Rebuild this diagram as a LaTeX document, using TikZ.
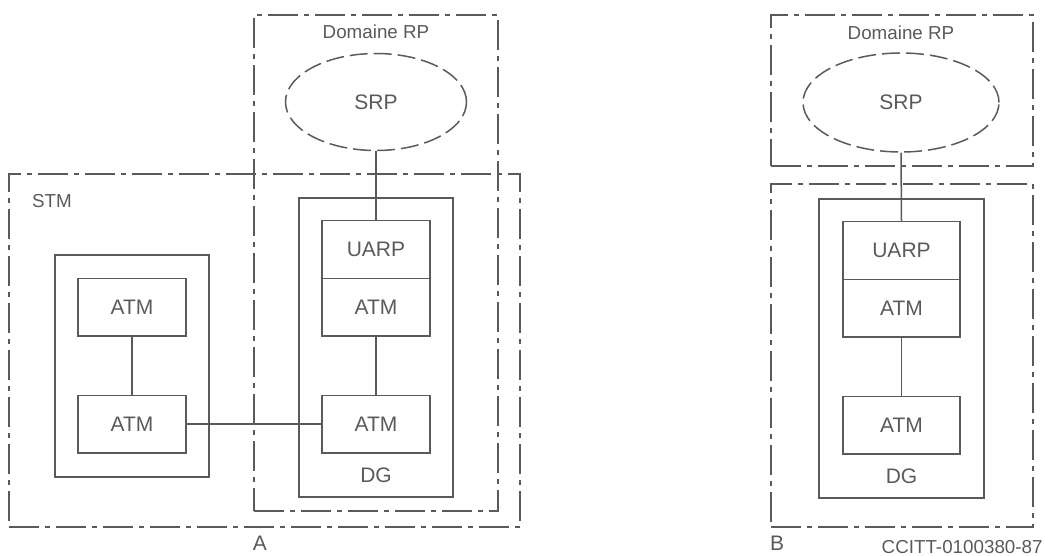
\documentclass[tikz,border=0pt]{standalone}
\usepackage{fontspec}
\setmainfont{Liberation Sans}
\usetikzlibrary{shapes.geometric}
\definecolor{ink}{HTML}{5A5A5A}
\begin{document}
\begin{tikzpicture}[
  x=0.5pt, y=-0.5pt,
  frame/.style={draw=ink, line width=0.75pt, inner sep=0pt,
                dash pattern=on 15pt off 3pt on 2.5pt off 3pt},
  solidbox/.style={draw=ink, line width=0.75pt, inner sep=0pt},
  unitbox/.style={solidbox, minimum height=28.75pt, text=ink,
                  font=\fontsize{10.5}{12}\selectfont},
  srp/.style={ellipse, draw=ink, line width=0.75pt, inner sep=0pt,
              dash pattern=on 9pt off 3pt, text=ink,
              font=\fontsize{10.5}{12}\selectfont},
  lbl/.style={text=ink, inner sep=0pt, font=\fontsize{10.5}{12}\selectfont},
  smalllbl/.style={text=ink, inner sep=0pt, font=\fontsize{9.4}{11}\selectfont},
  link/.style={draw=ink, line width=0.75pt}
]
\useasboundingbox (0,0) rectangle (1045,556);

% ---------------- configuration A ----------------
\node[frame, minimum width=122pt, minimum height=248pt] (rpA) at (376,263) {};
\node[frame, minimum width=255.5pt, minimum height=176.5pt] (stm) at (264.5,350.5) {};
\node[smalllbl] (rpAlbl) at (376,32) {Domaine RP};
\node[smalllbl] (stmlbl) at (52,201) {STM};
\node[srp, minimum width=90.5pt, minimum height=48.5pt] (srpA) at (376,102) {SRP};

% terminal group inside the STM
\node[solidbox, minimum width=77pt, minimum height=111pt] (term) at (132,366) {};
\node[unitbox, minimum width=54pt] (atmL1) at (132,307) {ATM};
\node[unitbox, minimum width=54pt] (atmL2) at (132,424) {ATM};

% DG of configuration A
\node[solidbox, minimum width=77pt, minimum height=149.5pt] (dgA) at (376,347.5) {};
\node[unitbox, minimum width=54pt] (uarpA) at (376,249.5) {UARP};
\node[unitbox, minimum width=54pt] (atmA1) at (376,307) {ATM};
\node[unitbox, minimum width=54pt] (atmA2) at (376,424) {ATM};
\node[lbl] (dgAlbl) at (376,475) {DG};

\draw[link] (srpA.south) -- (uarpA.north);
\draw[link] (atmL1.south) -- (atmL2.north);
\draw[link] (atmA1.south) -- (atmA2.north);
\draw[link] (atmL2.east) -- (atmA2.west);

\node[lbl] (capA) at (260,543) {A};

% ---------------- configuration B ----------------
\node[frame, minimum width=131pt, minimum height=75.5pt] (rpB) at (902,90.5) {};
\node[frame, minimum width=131pt, minimum height=171.5pt] (lowB) at (902,355.5) {};
\node[smalllbl] (rpBlbl) at (901,33) {Domaine RP};
\node[srp, minimum width=98pt, minimum height=49.5pt] (srpB) at (901,102.5) {SRP};

\node[solidbox, minimum width=82.5pt, minimum height=149.5pt] (dgB) at (901.5,348.5) {};
\node[unitbox, minimum width=58.5pt] (uarpB) at (901.5,250.5) {UARP};
\node[unitbox, minimum width=58.5pt] (atmB1) at (901.5,308) {ATM};
\node[unitbox, minimum width=58.5pt] (atmB2) at (901.5,425) {ATM};
\node[lbl] (dgBlbl) at (901.5,476) {DG};

\draw[link] (srpB.south) -- (uarpB.north);
\draw[link] (atmB1.south) -- (atmB2.north);

\node[lbl] (capB) at (777,543) {B};
\node[smalllbl, anchor=east] (ref) at (1043,547) {CCITT-0100380-87};
\end{tikzpicture}
\end{document}
